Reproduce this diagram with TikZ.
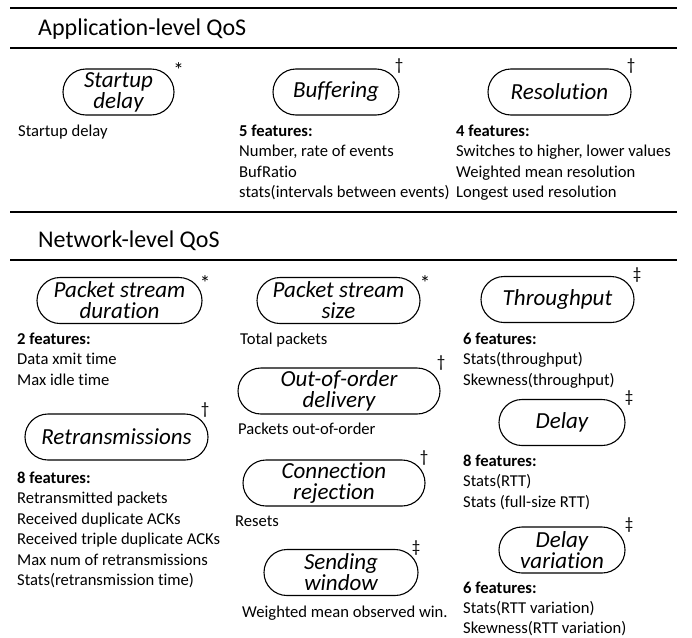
\documentclass[tikz,border=0pt]{standalone}
\usepackage{fontspec}
\setmainfont[Ligatures=NoCommon]{Carlito}
\newcommand{\lstrut}{\rule{0pt}{14pt}}
\begin{document}
\begin{tikzpicture}[x=1pt,y=-1pt,
  qos/.style={draw, line width=1.1pt, rounded corners=23pt, minimum height=46pt, inner sep=0pt, align=center, font=\fontsize{23}{21}\selectfont\itshape},
  lst/.style={anchor=north west, inner sep=0pt, align=left, font=\fontsize{16.6}{20.5}\selectfont},
  ttl/.style={anchor=base west, inner sep=0pt, font=\fontsize{24}{26}\selectfont},
  mk/.style={inner sep=0pt, font=\fontsize{17}{18}\selectfont},
  star/.style={inner sep=0pt, anchor=base, font=\fontsize{21}{22}\selectfont},
  hrule/.style={line width=2pt}]
\useasboundingbox (0,0) rectangle (692,637);
% rules
\coordinate (r1a) at (10,8);   \coordinate (r1b) at (677,8);
\coordinate (r2a) at (10,48);  \coordinate (r2b) at (677,48);
\coordinate (r3a) at (10,212); \coordinate (r3b) at (677,212);
\coordinate (r4a) at (10,260); \coordinate (r4b) at (677,260);
\draw[hrule] (r1a) -- (r1b);
\draw[hrule] (r2a) -- (r2b);
\draw[hrule] (r3a) -- (r3b);
\draw[hrule] (r4a) -- (r4b);
% titles
\node[ttl] (t1) at (38,35.5) {Application-level QoS};
\node[ttl] (t2) at (38,247.5) {Network-level QoS};
% application nodes
\node[qos, minimum width=111pt] (startup) at (118.5,92) {Startup\\delay};
\node[qos, minimum width=126pt] (buf) at (336,92) {Buffering};
\node[qos, minimum width=143pt] (res) at (559.5,92) {Resolution};
\node[star] (m1) at (178.5,77) {*};
\node[mk] (m2) at (399,66) {†};
\node[mk] (m3) at (631,66) {†};
\node[lst] (startupL) at (18,122) {\lstrut Startup delay};
\node[lst] (bufL) at (239,122) {\lstrut\textbf{5 features:}\\Number, rate of events\\BufRatio\\stats(intervals between events)};
\node[lst] (resL) at (456,122) {\lstrut\textbf{4 features:}\\Switches to higher, lower values\\Weighted mean resolution\\Longest used resolution};
% network nodes
\node[qos, minimum width=165pt] (psd) at (119.5,300.5) {Packet stream\\duration};
\node[qos, minimum width=163pt] (pss) at (338.5,300.5) {Packet stream\\size};
\node[qos, minimum width=153pt] (thr) at (557.5,299.5) {Throughput};
\node[qos, minimum width=202pt] (ooo) at (339,391) {Out-of-order\\delivery};
\node[qos, minimum width=183pt] (ret) at (116.5,437) {Retransmissions};
\node[qos, minimum width=182pt] (cr) at (334,483) {Connection\\rejection};
\node[qos, minimum width=154pt] (sw) at (341,572.5) {Sending\\window};
\node[qos, minimum width=126pt] (dl) at (562,422.5) {Delay};
\node[qos, minimum width=126pt] (dv) at (562,550) {Delay\\variation};
\node[star] (m4) at (205,290) {*};
\node[star] (m5) at (425,290) {*};
\node[mk] (m6) at (637,275) {‡};
\node[mk] (m7) at (441,363) {†};
\node[mk] (m8) at (205,410) {†};
\node[mk] (m9) at (424,458) {†};
\node[mk] (m10) at (416,548) {‡};
\node[mk] (m11) at (629,398) {‡};
\node[mk] (m12) at (629,525) {‡};
\node[lst] (psdL) at (17,330) {\lstrut\textbf{2 features:}\\Data xmit time\\Max idle time};
\node[lst] (pssL) at (240,330) {\lstrut Total packets};
\node[lst] (thrL) at (463,330) {\lstrut\textbf{6 features:}\\Stats(throughput)\\Skewness(throughput)};
\node[lst] (oooL) at (238,420) {\lstrut Packets out-of-order};
\node[lst] (retL) at (17,469) {\lstrut\textbf{8 features:}\\Retransmitted packets\\Received duplicate ACKs\\Received triple duplicate ACKs\\Max num of retransmissions\\Stats(retransmission time)};
\node[lst] (crL) at (235,512) {\lstrut Resets};
\node[lst] (swL) at (242,603) {\lstrut Weighted mean observed win.};
\node[lst] (dlL) at (463,452) {\lstrut\textbf{8 features:}\\Stats(RTT)\\Stats (full-size RTT)};
\node[lst,font=\fontsize{16.6}{20}\selectfont] (dvL) at (463,579) {\lstrut\textbf{6 features:}\\Stats(RTT variation)\\Skewness(RTT variation)};
\end{tikzpicture}
\end{document}
